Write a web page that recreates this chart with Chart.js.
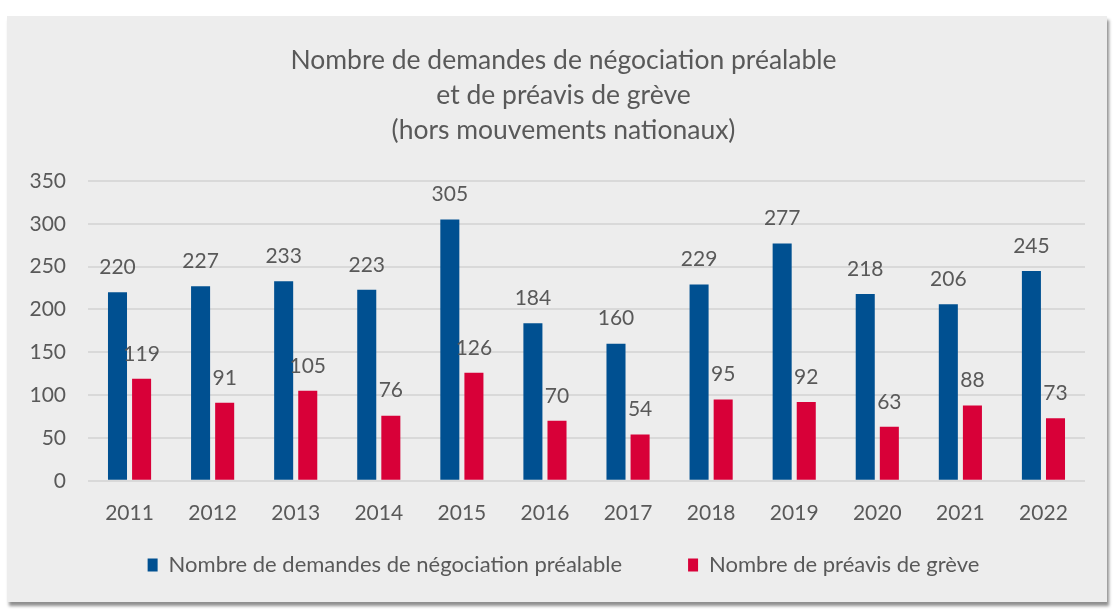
<!DOCTYPE html>
<html>
<head>
<meta charset="utf-8">
<script src="https://cdn.jsdelivr.net/npm/chart.js@4.4.0/dist/chart.umd.min.js"></script>
<style>
  body { margin: 0; background: #fff; }
  #panel {
    position: absolute; left: 7px; top: 16px;
    width: 1100px; height: 586px;
    background: #ededed;
    box-shadow: 2px 4px 3px #8f8f8f;
  }
</style>
</head>
<body>
<div id="panel"><canvas id="myChart" width="1100" height="586"></canvas></div>
<script>
'use strict';

// data
let years = ['2011', '2012', '2013', '2014', '2015', '2016', '2017', '2018', '2019', '2020', '2021', '2022'];
let demandes = [220, 227, 233, 223, 305, 184, 160, 229, 277, 218, 206, 245];
let preavis = [119, 91, 105, 76, 126, 70, 54, 95, 92, 63, 88, 73];
let yTicks = [0, 50, 100, 150, 200, 250, 300, 350];

let gray = '#595959';
let font = 'Lato, "Open Sans", sans-serif';
let legendShift = 50;

// simple value labels above each bar
let valueLabels = {
  id: 'valueLabels',
  afterDatasetsDraw(chart) {
    let ctx = chart.ctx;
    ctx.save();
    ctx.font = '21px ' + font;
    ctx.fillStyle = gray;
    ctx.textAlign = 'center';
    ctx.textBaseline = 'middle';
    chart.data.datasets.forEach((ds, i) => {
      chart.getDatasetMeta(i).data.forEach((bar, j) => {
        ctx.fillText(ds.data[j], bar.x, bar.y - 25);
      });
    });
    ctx.restore();
  }
};

// wide gap between legend items, but keep the legend box short
let legendSpacing = {
  id: 'legendSpacing',
  afterInit(chart) {
    let lg = chart.legend;
    let fit = lg.fit.bind(lg);
    let draw = lg._draw.bind(lg);
    lg.fit = function () { fit(); lg.height -= legendShift; };
    lg._draw = function () { lg.top -= legendShift; draw(); lg.top += legendShift; };
  }
};

let canvasChart = document.getElementById('myChart');
const myChart = new Chart(canvasChart, {
  type: 'bar',
  data: {
    labels: years,
    datasets: [{
      label: 'Nombre de demandes de négociation préalable',
      data: demandes,
      backgroundColor: '#005091',
      categoryPercentage: 0.58,
      barPercentage: 0.79
    },
    {
      label: 'Nombre de préavis de grève',
      data: preavis,
      backgroundColor: '#d80038',
      categoryPercentage: 0.58,
      barPercentage: 0.79
    }]
  },
  options: {
    responsive: false,
    animation: false,
    layout: { padding: { left: 23, right: 10, top: 27, bottom: 16 } },
    plugins: {
      title: {
        display: true,
        text: ['Nombre de demandes de négociation préalable', 'et de préavis de grève', '(hors mouvements nationaux)'],
        color: gray,
        font: { family: font, size: 26.5, weight: 'normal', lineHeight: 1.32 },
        padding: { top: 0, bottom: 33 }
      },
      legend: {
        position: 'bottom',
        padding: 0,
        labels: {
          color: gray,
          font: { family: font, size: 22 },
          boxWidth: 10,
          boxHeight: 13,
          padding: 66
        }
      },
      tooltip: { enabled: false }
    },
    scales: {
      x: {
        grid: { display: false },
        border: { display: false },
        ticks: { color: gray, font: { family: font, size: 21 }, padding: 12 }
      },
      y: {
        min: 0,
        max: 350,
        afterBuildTicks: axis => { axis.ticks = yTicks.map(v => ({ value: v })); },
        afterFit: axis => { axis.width = 58; },
        grid: { color: '#d9d9d9', lineWidth: 2, drawTicks: false },
        border: { display: false },
        ticks: { color: gray, font: { family: font, size: 21 }, padding: 22 }
      },
      // empty strip on the right so the title sits a bit left of the plot centre
      yRight: {
        position: 'right',
        grid: { display: false },
        border: { display: false },
        ticks: { display: false },
        afterFit: axis => { axis.width = 12; }
      }
    }
  },
  plugins: [valueLabels, legendSpacing]
});
</script>
</body>
</html>
